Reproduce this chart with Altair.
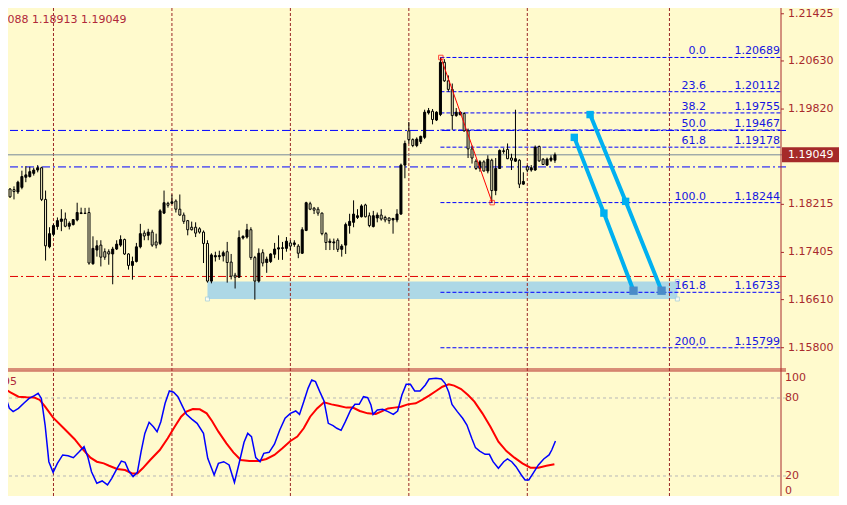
import altair as alt
import pandas as pd

# ---- H1 candles, oldest first ----
BAR_OPEN = [
    1.18555, 1.18473, 1.18463, 1.18423, 1.18501, 1.18671, 1.18683, 1.18737, 1.18793, 1.18831,
    1.18298, 1.17499, 1.17709, 1.17841, 1.17928, 1.17968, 1.17846, 1.17874, 1.17952, 1.18060,
    1.18067, 1.18077, 1.17214, 1.17445, 1.17528, 1.17417, 1.17417, 1.17379, 1.17462, 1.17528,
    1.17622, 1.17379, 1.17186, 1.17252, 1.17499, 1.17730, 1.17693, 1.17747, 1.17582, 1.17556,
    1.18067, 1.18232, 1.18232, 1.18270, 1.18133, 1.18034, 1.17940, 1.17829, 1.17829, 1.17803,
    1.17747, 1.17556, 1.16922, 1.17330, 1.17334, 1.17346, 1.17417, 1.17242, 1.17021, 1.16988,
    1.17648, 1.17664, 1.17787, 1.17318, 1.16922, 1.17400, 1.17235, 1.17252, 1.17374, 1.17462,
    1.17473, 1.17473, 1.17565, 1.17539, 1.17511, 1.17391, 1.17775, 1.18225, 1.18150, 1.18133,
    1.18067, 1.17721, 1.17572, 1.17565, 1.17610, 1.17457, 1.17528, 1.17858, 1.17912, 1.17994,
    1.18006, 1.18204, 1.18023, 1.17841, 1.17985, 1.18034, 1.17994, 1.17985, 1.17952, 1.17952,
    1.18051, 1.18876, 1.19453, 1.19305, 1.19206, 1.19272, 1.19343, 1.19755, 1.19783, 1.19635,
    1.19727, 1.20608, 1.20295, 1.20151, 1.19710, 1.19727, 1.19744, 1.19453, 1.19149, 1.18942,
    1.18819, 1.18930, 1.18777, 1.18958, 1.18447, 1.18819, 1.19106, 1.19140, 1.18995, 1.18942,
    1.18958, 1.18555, 1.18848, 1.18793, 1.18793, 1.19189, 1.18975, 1.18876, 1.18958, 1.18958,
]
BAR_HIGH = [
    1.18572, 1.18489, 1.18518, 1.18612, 1.18782, 1.18859, 1.18848, 1.18831, 1.18876, 1.18848,
    1.18447, 1.17829, 1.17886, 1.17994, 1.18133, 1.18077, 1.17928, 1.17968, 1.18242, 1.18159,
    1.18155, 1.18159, 1.17676, 1.17610, 1.17610, 1.17473, 1.17457, 1.17499, 1.17610, 1.17693,
    1.17638, 1.17391, 1.17334, 1.17565, 1.17886, 1.17775, 1.17803, 1.17787, 1.17721, 1.18133,
    1.18447, 1.18258, 1.18381, 1.18298, 1.18381, 1.18077, 1.17952, 1.17924, 1.17912, 1.17829,
    1.17775, 1.17610, 1.17391, 1.17417, 1.17434, 1.17434, 1.17582, 1.17379, 1.17061, 1.17775,
    1.17693, 1.17886, 1.17829, 1.17346, 1.17473, 1.17457, 1.17334, 1.17391, 1.17565, 1.17693,
    1.17582, 1.17664, 1.17610, 1.17610, 1.17544, 1.17829, 1.18258, 1.18258, 1.18171, 1.18171,
    1.18077, 1.17747, 1.17638, 1.17638, 1.17643, 1.17544, 1.17907, 1.18056, 1.18282, 1.18133,
    1.18216, 1.18225, 1.18077, 1.18105, 1.18077, 1.18133, 1.18023, 1.17994, 1.17985, 1.18133,
    1.18902, 1.19288, 1.19602, 1.19326, 1.19343, 1.19371, 1.19809, 1.19838, 1.19821, 1.19783,
    1.20689, 1.20660, 1.20387, 1.20250, 1.19838, 1.19783, 1.19767, 1.19491, 1.19206, 1.18975,
    1.18958, 1.18958, 1.19041, 1.18984, 1.18995, 1.19140, 1.19161, 1.19240, 1.19067, 1.19809,
    1.18975, 1.18754, 1.18876, 1.18876, 1.19206, 1.19206, 1.18995, 1.19001, 1.19041, 1.19088,
]
BAR_LOW = [
    1.18324, 1.18324, 1.18298, 1.18390, 1.18468, 1.18588, 1.18666, 1.18699, 1.18754, 1.18270,
    1.17268, 1.17473, 1.17676, 1.17787, 1.17763, 1.17829, 1.17792, 1.17858, 1.17928, 1.18051,
    1.18056, 1.17198, 1.17198, 1.17334, 1.17169, 1.17280, 1.17198, 1.16868, 1.17445, 1.17499,
    1.17363, 1.17115, 1.16946, 1.17235, 1.17473, 1.17610, 1.17610, 1.17499, 1.17473, 1.17528,
    1.18051, 1.18159, 1.18216, 1.18077, 1.18023, 1.17886, 1.17693, 1.17775, 1.17664, 1.17721,
    1.17226, 1.16896, 1.16884, 1.17252, 1.17280, 1.17252, 1.16896, 1.16950, 1.16797, 1.16978,
    1.17622, 1.17638, 1.17280, 1.16608, 1.16896, 1.17169, 1.17061, 1.17226, 1.17308, 1.17280,
    1.17280, 1.17417, 1.17445, 1.17499, 1.17308, 1.17379, 1.17763, 1.18117, 1.18051, 1.18023,
    1.17693, 1.17445, 1.17445, 1.17445, 1.17412, 1.17334, 1.17379, 1.17721, 1.17829, 1.17968,
    1.17994, 1.17994, 1.17829, 1.17825, 1.17912, 1.17940, 1.17912, 1.17886, 1.17721, 1.17912,
    1.18039, 1.18654, 1.19240, 1.19178, 1.19178, 1.19232, 1.19314, 1.19727, 1.19562, 1.19618,
    1.19701, 1.20278, 1.20113, 1.19470, 1.19689, 1.19710, 1.19437, 1.18995, 1.18902, 1.18793,
    1.18765, 1.18765, 1.18737, 1.18244, 1.18369, 1.18810, 1.19067, 1.18975, 1.18793, 1.18930,
    1.18489, 1.18545, 1.18754, 1.18765, 1.18780, 1.18930, 1.18876, 1.18864, 1.18930, 1.18913,
]
BAR_CLOSE = [
    1.18341, 1.18341, 1.18430, 1.18588, 1.18683, 1.18711, 1.18765, 1.18793, 1.18831, 1.18298,
    1.17516, 1.17721, 1.17858, 1.17940, 1.17968, 1.17846, 1.17895, 1.17957, 1.18077, 1.18072,
    1.18060, 1.17226, 1.17473, 1.17516, 1.17325, 1.17325, 1.17379, 1.17462, 1.17544, 1.17622,
    1.17379, 1.17186, 1.17252, 1.17499, 1.17721, 1.17681, 1.17747, 1.17528, 1.17528, 1.18105,
    1.18242, 1.18199, 1.18258, 1.18133, 1.18034, 1.17928, 1.17787, 1.17787, 1.17730, 1.17747,
    1.17556, 1.16922, 1.17363, 1.17351, 1.17351, 1.17400, 1.17235, 1.17004, 1.16988, 1.17655,
    1.17676, 1.17787, 1.17318, 1.16922, 1.17391, 1.17226, 1.17292, 1.17379, 1.17462, 1.17483,
    1.17483, 1.17594, 1.17511, 1.17565, 1.17391, 1.17787, 1.18242, 1.18133, 1.18117, 1.18067,
    1.17721, 1.17572, 1.17594, 1.17582, 1.17457, 1.17511, 1.17874, 1.17928, 1.18051, 1.18023,
    1.18188, 1.18006, 1.17858, 1.18023, 1.18034, 1.17968, 1.17952, 1.17940, 1.17978, 1.18051,
    1.18876, 1.19240, 1.19305, 1.19206, 1.19314, 1.19360, 1.19767, 1.19793, 1.19644, 1.19767,
    1.20608, 1.20295, 1.20151, 1.19710, 1.19767, 1.19767, 1.19453, 1.19149, 1.18995, 1.18819,
    1.18930, 1.18777, 1.18975, 1.18447, 1.18819, 1.19123, 1.19116, 1.18984, 1.18958, 1.18984,
    1.18555, 1.18600, 1.18793, 1.18831, 1.19178, 1.18947, 1.18886, 1.18975, 1.18995, 1.19049,
]

# ---- stochastic oscillator (bar position, value) ----
STOCH_K_BAR = [
    -0.25, 0.83, 1.78, 3.13, 4.48, 5.83, 7.18, 8.12, 8.93, 9.88, 10.83, 11.91, 12.99, 14.34,
    15.69, 17.04, 18.39, 19.74, 20.68, 21.63, 22.98, 24.33, 25.68, 26.76, 28.11, 29.19, 30.14,
    31.08, 32.16, 33.25, 34.19, 35.14, 36.22, 37.30, 38.24, 39.19, 40.27, 41.35, 42.43, 43.51,
    44.59, 45.67, 47.02, 48.37, 49.99, 51.07, 52.69, 53.77, 55.12, 56.47, 57.83, 58.91, 60.26,
    61.20, 62.15, 63.23, 64.31, 65.26, 66.61, 67.96, 69.31, 70.66, 72.01, 73.36, 74.31, 75.38,
    76.47, 77.41, 78.36, 79.44, 80.52, 81.60, 82.81, 83.76, 84.84, 85.92, 87.27, 88.35, 89.43,
    90.51, 91.59, 92.40, 92.94, 94.02, 95.37, 96.72, 98.07, 99.16, 100.24, 101.32, 102.40,
    103.48, 104.83, 106.18, 107.13, 108.88, 110.23, 111.18, 112.12, 112.93, 114.28, 115.63,
    116.71, 117.93, 118.87, 119.95, 121.30, 122.39, 123.33, 124.68, 126.03, 126.98, 128.06,
    129.14, 130.49, 131.43, 132.38, 133.46, 134.81, 136.16, 137.51, 138.19, 139.13,
]
STOCH_K = [
    82.3, 72.0, 69.5, 72.0, 75.9, 79.7, 81.8, 83.6, 79.7, 59.2, 31.0, 22.8, 29.7, 36.2,
    35.6, 34.1, 38.2, 42.6, 34.9, 23.3, 14.4, 16.2, 13.1, 18.2, 25.9, 31.5, 30.5,
    23.8, 19.5, 22.8, 38.7, 52.8, 61.3, 57.9, 54.1, 61.8, 75.9, 85.4, 84.4, 81.0,
    74.1, 67.4, 63.8, 60.5, 52.8, 33.6, 20.8, 29.7, 31.0, 28.5, 15.1, 28.5, 45.9,
    52.8, 50.3, 34.1, 31.0, 37.4, 38.2, 44.4, 55.4, 64.4, 68.2, 70.0, 67.4, 77.2,
    87.4, 93.8, 92.6, 84.9, 77.7, 60.5, 58.7, 56.7, 55.1, 61.8, 70.8, 75.1, 75.1,
    81.0, 80.2, 74.6, 67.4, 70.8, 71.3, 69.5, 67.4, 70.0, 82.3, 90.5, 90.5,
    85.4, 85.4, 90.0, 94.6, 95.1, 94.6, 91.3, 84.4, 75.1, 69.5, 64.4,
    59.2, 49.0, 41.8, 39.2, 36.7, 36.7, 31.0, 25.9, 31.0, 33.1, 31.0,
    27.2, 20.8, 16.9, 16.9, 22.0, 28.5, 33.1, 36.2, 40.0, 46.9,
]
STOCH_D_BAR = [
    -0.25, 1.10, 3.13, 5.15, 7.18, 8.53, 9.88, 11.91, 14.61, 17.31, 19.33, 21.36, 22.98,
    24.74, 26.09, 28.11, 30.14, 31.89, 33.25, 34.60, 36.49, 38.92, 40.94, 42.70, 44.32,
    45.67, 47.29, 49.05, 50.80, 52.15, 53.77, 55.80, 57.56, 59.45, 61.61, 63.90, 65.93,
    67.96, 69.98, 72.01, 73.76, 75.38, 77.00, 78.76, 80.52, 82.41, 84.16, 86.19, 87.81,
    89.57, 91.59, 93.62, 94.97, 96.72, 98.35, 99.97, 101.72, 103.75, 105.37, 107.13,
    108.88, 110.50, 112.12, 113.47, 115.23, 116.98, 118.60, 120.63, 122.66, 124.68,
    126.71, 128.74, 130.76, 132.79, 134.81, 136.84, 138.86,
]
STOCH_D = [
    86.9, 84.4, 81.0, 80.5, 80.3, 78.5, 73.3, 64.9, 56.7, 48.5, 40.8, 34.1, 31.0,
    29.7, 27.9, 25.4, 24.6, 22.0, 22.0, 25.9, 32.3, 40.0, 49.0, 57.9, 65.6,
    69.5, 71.5, 71.3, 68.2, 62.3, 54.1, 45.1, 38.2, 32.3, 31.5, 31.5, 33.1,
    36.2, 41.3, 46.9, 50.3, 56.7, 65.6, 72.0, 76.7, 75.1, 74.1, 72.6, 72.6,
    70.0, 68.2, 67.7, 69.5, 72.0, 72.6, 73.3, 75.1, 75.9, 78.5, 81.8,
    85.4, 88.7, 90.5, 89.5, 86.9, 82.3, 77.2, 68.2, 57.9, 46.4,
    39.2, 34.1, 29.7, 26.4, 26.4, 27.9, 29.0,
]

# ---- drawn objects ----
FIB_LEVELS = ["0.0", "23.6", "38.2", "50.0", "61.8", "100.0", "161.8", "200,0"]
FIB_PRICES = [1.20689, 1.20112, 1.19755, 1.19467, 1.19178, 1.18244, 1.16733, 1.15799]
FIB_START_BAR = 110

PRICE_TICKS = [1.21425, 1.20630, 1.19820, 1.18215, 1.17405, 1.16610, 1.15800]
STOCH_TOP, STOCH_MID, STOCH_BOTTOM = [100], [80, 20], [0]
STOCH_LEVELS = [80, 20]
SEPARATOR_BARS = [12, 42, 72, 102, 132, 168]

BLUE_LEVELS = [1.19460, 1.18845]
RED_LEVELS = [1.17000]
LAST_PRICE = 1.19049
HEADER = "1.19088 1.18913 1.19049"
STOCH_NAME = "95"

ZONE_BARS = [51, 170]
ZONE_PRICES = [1.16620, 1.16917]

SWING_BARS = [110.1, 123.1]
SWING_PRICES = [1.20689, 1.18244]

PATH_A_BARS = [143.9, 151.4, 158.9]
PATH_A_PRICES = [1.19343, 1.18067, 1.16760]
PATH_B_BARS = [147.9, 156.9, 166.0]
PATH_B_PRICES = [1.19727, 1.18265, 1.16760]

# ---- look ----
BG = "#FFFACD"
AXIS_RED = "#A8292C"
GRID_RED = "#9A2626"
FIB_BLUE = "#1515E0"
CYAN = "#00B0F0"
FONT = "DejaVu Sans"

W, H = 778, 488
AXIS_BAR = 196.25          # right edge of the plot = price scale line
TICK_END_BAR = 197.0
PRICE_LABEL_BAR = 198.0
STOCH_LABEL_BAR = 197.25
STOCH_FLOOR = 4.615        # stochastic value at the bottom edge
X_SCALE = alt.Scale(domain=[1.75, AXIS_BAR], nice=False, zero=False)
P_SCALE = alt.Scale(domain=[1.13386, 1.21438], nice=False, zero=False)
S_SCALE = alt.Scale(domain=[STOCH_FLOOR, 380], nice=False, zero=False)


def bx(field):
    return alt.X(field, type="quantitative", scale=X_SCALE, axis=None)


def py(field):
    return alt.Y(field, type="quantitative", scale=P_SCALE, axis=None)


def sy(field):
    return alt.Y(field, type="quantitative", scale=S_SCALE, axis=None)


def label_text(**kw):
    return dict(font=FONT, fontSize=11, **kw)


bars = pd.DataFrame({
    "i": range(len(BAR_OPEN)),
    "open": BAR_OPEN, "high": BAR_HIGH, "low": BAR_LOW, "close": BAR_CLOSE,
})
kdf = pd.DataFrame({"bar": STOCH_K_BAR, "v": STOCH_K})
ddf = pd.DataFrame({"bar": STOCH_D_BAR, "v": STOCH_D})
fib = pd.DataFrame({
    "level": FIB_LEVELS, "p": FIB_PRICES,
    "x0": FIB_START_BAR, "x1": AXIS_BAR,
    "lx": 177.25, "px": 196.0,
    "ptxt": [f"{p:.5f}" for p in FIB_PRICES],
})
ticks = pd.DataFrame({"p": PRICE_TICKS, "x0": AXIS_BAR, "x1": TICK_END_BAR,
                      "lx": PRICE_LABEL_BAR, "t": [f"{p:.5f}" for p in PRICE_TICKS]})
zone = pd.DataFrame({"x0": [ZONE_BARS[0]], "x1": [ZONE_BARS[1]],
                     "p0": [ZONE_PRICES[0]], "p1": [ZONE_PRICES[1]]})
handles = pd.DataFrame({"x": [ZONE_BARS[0], ZONE_BARS[1], ZONE_BARS[1]],
                        "p": [ZONE_PRICES[0], ZONE_PRICES[0], ZONE_PRICES[1]]})
swing = pd.DataFrame({"x": SWING_BARS, "p": SWING_PRICES})
path_a = pd.DataFrame({"x": PATH_A_BARS, "p": PATH_A_PRICES, "k": range(3)})
path_b = pd.DataFrame({"x": PATH_B_BARS, "p": PATH_B_PRICES, "k": range(3)})
paths = pd.concat([path_a.assign(g="a"), path_b.assign(g="b")])

# ---------------- price pane ----------------
zone_rect = alt.Chart(zone).mark_rect(color="#ADD8E6").encode(
    x=bx("x0"), x2="x1", y=py("p0"), y2="p1"
)
vgrid = alt.Chart(pd.DataFrame({"x": SEPARATOR_BARS})).mark_rule(
    color=GRID_RED, strokeDash=[3, 2], strokeWidth=1
).encode(x=bx("x"))
blue_lines = alt.Chart(pd.DataFrame({"p": BLUE_LEVELS})).mark_rule(
    color="#0000FF", strokeDash=[8, 3, 2, 3], strokeWidth=1
).encode(y=py("p"))
red_lines = alt.Chart(pd.DataFrame({"p": RED_LEVELS})).mark_rule(
    color="#E00000", strokeDash=[8, 3, 2, 3], strokeWidth=1
).encode(y=py("p"))
last_line = alt.Chart(pd.DataFrame({"p": [LAST_PRICE]})).mark_rule(
    color="#778899", strokeWidth=1
).encode(y=py("p"))
fib_lines = alt.Chart(fib).mark_rule(
    color="#0000FF", strokeDash=[4, 2], strokeWidth=1
).encode(x=bx("x0"), x2="x1", y=py("p"))
wicks = alt.Chart(bars).mark_rule(color="black", strokeWidth=1, clip=True).encode(
    x=bx("i"), y=py("low"), y2="high"
)
bodies = alt.Chart(bars).mark_bar(size=2, stroke="black", strokeWidth=1, clip=True).encode(
    x=bx("i"), y=py("open"), y2="close",
    fill=alt.condition("datum.close > datum.open", alt.value("black"), alt.value(BG)),
)
swing_line = alt.Chart(swing).mark_line(color="#FF0000", strokeWidth=1).encode(
    x=bx("x"), y=py("p")
)
swing_pts = alt.Chart(swing).mark_point(
    shape="square", size=20, color="#FF0000", filled=False, strokeWidth=1
).encode(x=bx("x"), y=py("p"))
path_lines = alt.Chart(paths).mark_line(color=CYAN, strokeWidth=4).encode(
    x=bx("x"), y=py("p"), detail="g", order="k"
)
path_mid = alt.Chart(paths[paths["k"] < 2]).mark_point(
    shape="square", size=55, color=CYAN, filled=True, opacity=1
).encode(x=bx("x"), y=py("p"))
path_end = alt.Chart(paths[paths["k"] == 2]).mark_point(
    shape="square", size=70, color="#4A8CC8", filled=True, opacity=1
).encode(x=bx("x"), y=py("p"))
zone_handles = alt.Chart(handles).mark_point(
    shape="square", size=16, color="#9CCBE0", fill="white", filled=False, strokeWidth=1
).encode(x=bx("x"), y=py("p"))
fib_level_txt = alt.Chart(fib).mark_text(
    **label_text(align="right", baseline="alphabetic", dy=-3, color=FIB_BLUE)
).encode(x=bx("lx"), y=py("p"), text="level")
fib_price_txt = alt.Chart(fib).mark_text(
    **label_text(align="right", baseline="alphabetic", dy=-3, color=FIB_BLUE)
).encode(x=bx("px"), y=py("p"), text="ptxt")

# price scale on the right: line, ticks, labels and the last-price box
scale_line = alt.Chart(pd.DataFrame({"x": [AXIS_BAR]})).mark_rule(
    color=AXIS_RED, strokeWidth=1
).encode(x=bx("x"))
tick_marks = alt.Chart(ticks).mark_rule(color=AXIS_RED, strokeWidth=1).encode(
    x=bx("x0"), x2="x1", y=py("p")
)
tick_labels = alt.Chart(ticks).mark_text(
    **label_text(align="left", baseline="middle", color=AXIS_RED)
).encode(x=bx("lx"), y=py("p"), text="t")
box = alt.Chart(pd.DataFrame({"x0": [196.5], "x1": [211.5], "p": [LAST_PRICE]})).mark_bar(
    orient="horizontal", size=15, color="#A52A2A"
).encode(x=bx("x0"), x2="x1", y=py("p"))
box_txt = alt.Chart(pd.DataFrame({"x": [PRICE_LABEL_BAR], "p": [LAST_PRICE],
                                  "t": [f"{LAST_PRICE:.5f}"]})).mark_text(
    **label_text(align="left", baseline="middle", color="white")
).encode(x=bx("x"), y=py("p"), text="t")
header = alt.Chart(pd.DataFrame({"x": [30.5], "p": [1.21323], "t": [HEADER]})).mark_text(
    **label_text(align="right", baseline="middle", color="#B0283A")
).encode(x=bx("x"), y=py("p"), text="t")

price_pane = alt.layer(
    zone_rect, vgrid, blue_lines, red_lines, last_line, fib_lines, wicks, bodies,
    swing_line, swing_pts, path_lines, path_mid, path_end, zone_handles,
    fib_level_txt, fib_price_txt, scale_line, tick_marks, tick_labels,
    box, box_txt, header,
)

# ---------------- stochastic pane ----------------
levels = alt.Chart(pd.DataFrame({"v": STOCH_LEVELS})).mark_rule(
    color="#B8B8B8", strokeDash=[3, 3], strokeWidth=1
).encode(y=sy("v"))
edges = alt.Chart(pd.DataFrame({"v": [102.3, 100.8]})).mark_rule(
    color="#B22222", strokeWidth=1
).encode(y=sy("v"))
d_line = alt.Chart(ddf).mark_line(color="#FF0000", strokeWidth=2, clip=True).encode(
    x=bx("bar"), y=sy("v")
)
k_line = alt.Chart(kdf).mark_line(color="#0000FF", strokeWidth=1.5, clip=True).encode(
    x=bx("bar"), y=sy("v")
)


def stoch_labels(values, baseline, at=None):
    df = pd.DataFrame({"v": values if at is None else [at] * len(values),
                       "t": [str(v) for v in values], "x": STOCH_LABEL_BAR})
    return alt.Chart(df).mark_text(
        **label_text(align="left", baseline=baseline, color=AXIS_RED)
    ).encode(x=bx("x"), y=sy("v"), text="t")


stoch_name = alt.Chart(pd.DataFrame({"x": [2.75], "v": [92.3], "t": [STOCH_NAME]})).mark_text(
    **label_text(align="right", baseline="middle", color="#B0283A")
).encode(x=bx("x"), y=sy("v"), text="t")

stoch_pane = alt.layer(
    levels, edges, d_line, k_line,
    stoch_labels(STOCH_TOP, "top"),
    stoch_labels(STOCH_MID, "middle"),
    stoch_labels(STOCH_BOTTOM, "bottom", at=STOCH_FLOOR),
    stoch_name,
)

chart = (
    alt.layer(price_pane, stoch_pane)
    .resolve_scale(y="independent")
    .properties(
        width=W, height=H,
        autosize=alt.AutoSizeParams(type="none"),
        padding={"left": 0, "top": 0, "right": 53, "bottom": 0},
    )
    .configure(background=BG, font=FONT)
    .configure_view(stroke=None)
)

chart.save("out.html", embed_options={"renderer": "svg", "actions": False})
